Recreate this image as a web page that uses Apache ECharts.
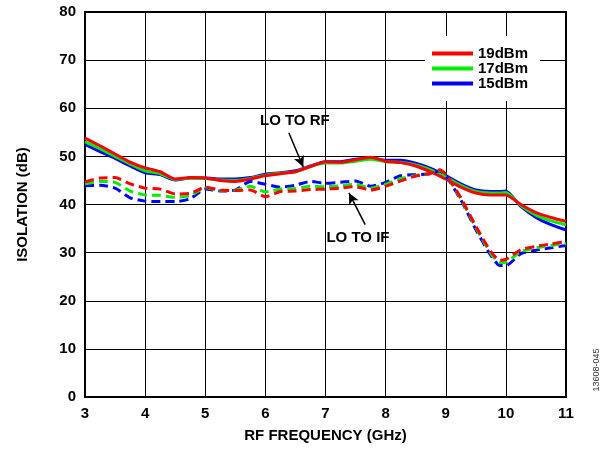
<!DOCTYPE html>
<html>
<head>
<meta charset="utf-8">
<script src="https://cdn.jsdelivr.net/npm/echarts@6/dist/echarts.min.js"></script>
<style>
  html, body { margin: 0; padding: 0; background: #fff; }
  #chart { width: 607px; height: 452px; }
</style>
</head>
<body>
<div id="chart"></div>
<script>
// frequency points (GHz)
const freq = [3, 3.25, 3.5, 3.75, 4, 4.25, 4.5, 4.75, 5, 5.25, 5.5, 5.75, 6, 6.25, 6.5, 6.75,
  7, 7.25, 7.5, 7.75, 8, 8.25, 8.5, 8.75, 8.9, 9, 9.25, 9.5, 9.75, 9.9, 10, 10.25, 10.5, 10.75, 11];

// LO to RF isolation (solid)
const rf19 = [53.8, 52.2, 50.5, 48.8, 47.6, 46.8, 45.3, 45.6, 45.5, 45.0, 44.8, 45.3, 46.0, 46.4, 46.8, 47.9,
  48.9, 48.8, 49.3, 49.8, 49.0, 48.7, 48.0, 46.8, 45.9, 45.3, 43.6, 42.4, 42.0, 42.0, 42.0, 40.0, 38.3, 37.3, 36.5];
const rf17 = [53.0, 51.6, 50.0, 48.4, 47.0, 46.4, 45.2, 45.5, 45.4, 45.1, 45.0, 45.4, 46.1, 46.5, 46.8, 47.9,
  48.6, 48.6, 49.0, 49.4, 48.9, 48.8, 48.2, 47.2, 46.3, 45.7, 44.0, 42.7, 42.4, 42.4, 42.5, 39.8, 37.8, 36.6, 35.8];
const rf15 = [52.5, 51.0, 49.6, 48.0, 46.6, 46.2, 45.1, 45.5, 45.5, 45.3, 45.3, 45.6, 46.3, 46.6, 47.0, 48.0,
  48.9, 48.9, 49.4, 49.6, 49.2, 49.2, 48.6, 47.5, 46.6, 46.0, 44.3, 43.0, 42.7, 42.7, 42.8, 39.6, 37.3, 35.8, 34.7];

// LO to IF isolation (dashed)
const if19 = [44.7, 45.5, 45.6, 44.3, 43.4, 43.2, 42.2, 42.3, 43.6, 43.0, 42.9, 43.0, 41.6, 42.7, 42.8, 43.1,
  43.2, 43.4, 43.7, 43.0, 43.8, 44.9, 45.9, 46.5, 47.2, 46.3, 41.4, 35.5, 30.2, 28.4, 28.6, 30.6, 31.3, 31.8, 32.3];
const if17 = [44.3, 44.8, 44.6, 42.8, 42.0, 41.9, 41.5, 41.8, 43.5, 42.9, 43.0, 43.8, 42.6, 43.2, 43.3, 43.8,
  43.7, 43.9, 44.2, 43.4, 44.2, 45.4, 46.0, 46.5, 47.1, 46.2, 41.2, 35.2, 29.8, 27.9, 28.0, 30.2, 31.0, 31.5, 31.9];
const if15 = [43.9, 44.0, 43.4, 41.4, 40.7, 40.6, 40.6, 41.2, 43.2, 42.8, 43.0, 44.8, 44.2, 43.6, 44.0, 44.8,
  44.4, 44.6, 44.9, 43.8, 44.6, 46.0, 46.2, 46.4, 47.0, 46.0, 41.0, 34.8, 29.4, 27.3, 27.3, 29.8, 30.5, 31.0, 31.5];

const legendNames = ['19dBm', '17dBm', '15dBm'];

const pairs = (ys) => freq.map((f, i) => [f, ys[i]]);
const font = 'Arial, "Liberation Sans", sans-serif';

const lineSeries = (name, data, color, dashed) => ({
  name,
  type: 'line',
  data: pairs(data),
  symbol: 'none',
  smooth: 0.2,
  silent: true,
  lineStyle: { color, width: 3, type: dashed ? [9, 5] : 'solid' },
  itemStyle: { color },
  z: 3
});

const chart = echarts.init(document.getElementById('chart'), null, { renderer: 'canvas' });

const series = [
  lineSeries('15dBm', rf15, '#0000ff', false),
  lineSeries('17dBm', rf17, '#00ee00', false),
  lineSeries('19dBm', rf19, '#ff0000', false),
  lineSeries('15dBm IF', if15, '#0000ff', true),
  lineSeries('17dBm IF', if17, '#00ee00', true),
  lineSeries('19dBm IF', if19, '#ff0000', true)
];

// annotations: arrows and labels in data coordinates
series[5].markLine = {
  silent: true,
  symbol: ['none', 'arrow'],
  symbolSize: [8, 11],
  label: { show: false },
  lineStyle: { color: '#000', width: 1.5, type: 'solid' },
  data: [
    [{ coord: [6.39, 54.9] }, { coord: [6.63, 47.8] }],
    [{ coord: [7.66, 35.8] }, { coord: [7.39, 42.4] }]
  ]
};
series[5].markPoint = {
  silent: true,
  symbolSize: 0,
  label: { show: true, position: 'inside', color: '#000', fontFamily: font, fontWeight: 'bold', fontSize: 15,
    formatter: (p) => p.name },
  data: [
    { name: 'LO TO RF', coord: [6.49, 57.4] },
    { name: 'LO TO IF', coord: [7.54, 33.1] }
  ]
};

chart.setOption({
  animation: false,
  grid: { left: 85, right: 41, top: 12, bottom: 55, show: true, borderColor: '#000', borderWidth: 2 },
  legend: {
    data: legendNames,
    orient: 'vertical',
    left: 425,
    top: 36,
    padding: [10, 12, 10, 7],
    backgroundColor: '#fff',
    icon: 'rect',
    itemWidth: 41,
    itemHeight: 4,
    itemGap: 0,
    z: 10,
    textStyle: { color: '#000', fontFamily: font, fontWeight: 'bold', fontSize: 15 }
  },
  xAxis: {
    type: 'value',
    min: 3,
    max: 11,
    interval: 1,
    name: 'RF FREQUENCY (GHz)',
    nameLocation: 'middle',
    nameGap: 31,
    nameTextStyle: { color: '#000', fontFamily: font, fontWeight: 'bold', fontSize: 15 },
    axisLine: { lineStyle: { color: '#000', width: 2 } },
    axisTick: { show: false },
    axisLabel: { color: '#000', fontFamily: font, fontWeight: 'bold', fontSize: 15, margin: 9 },
    splitLine: { show: true, lineStyle: { color: '#000', width: 1 } }
  },
  yAxis: {
    type: 'value',
    min: 0,
    max: 80,
    interval: 10,
    name: 'ISOLATION (dB)',
    nameLocation: 'middle',
    nameGap: 55,
    nameTextStyle: { color: '#000', fontFamily: font, fontWeight: 'bold', fontSize: 15 },
    axisLine: { lineStyle: { color: '#000', width: 2 } },
    axisTick: { show: false },
    axisLabel: { color: '#000', fontFamily: font, fontWeight: 'bold', fontSize: 15, margin: 9 },
    splitLine: { show: true, lineStyle: { color: '#000', width: 1 } }
  },
  graphic: [{
    type: 'text',
    x: 597,
    y: 370,
    rotation: Math.PI / 2,
    style: { text: '13608-045', fill: '#333', font: '9px ' + font, align: 'center', verticalAlign: 'middle' }
  }],
  series
});
</script>
</body>
</html>
